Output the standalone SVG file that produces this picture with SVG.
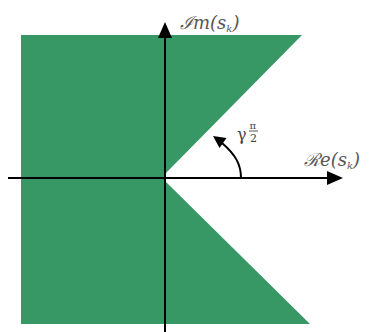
<svg xmlns="http://www.w3.org/2000/svg" width="372" height="332" viewBox="0 0 372 332">
<style>
.ax{stroke:#000;stroke-width:2;fill:none}
.ah{fill:#000}
.lbl{font-family:"DejaVu Serif","Liberation Serif",serif;font-style:italic;fill:#555}
.g{font-family:"DejaVu Serif","Liberation Serif",serif;fill:#444}
</style>
<rect width="372" height="332" fill="#fff"/>
<g id="region">
<polygon points="21,35 302,35 166,173 166,182 310,324 21,324" fill="#379866"/>
</g>
<g id="connectors">
<line class="ax" x1="8" y1="178" x2="330" y2="178"/>
<polygon class="ah" points="343,178 327,171 327,185"/>
<line class="ax" x1="165" y1="332" x2="165" y2="36"/>
<polygon class="ah" points="165,22 158,38 172,38"/>
<path class="ax" stroke-width="2.5" d="M241,178 C241,165 236,155 222,143"/>
<polygon class="ah" points="213,136 226.5,138 219.5,148"/>
</g>
<g id="im-label">
<text class="lbl" x="180" y="29" font-size="18">ℐm(s<tspan font-size="10" dy="3">k</tspan><tspan dy="-3">)</tspan></text>
</g>
<g id="re-label">
<text class="lbl" x="304" y="166" font-size="18">ℛe(s<tspan font-size="10" dy="3">k</tspan><tspan dy="-3">)</tspan></text>
</g>
<g id="angle-label">
<text class="g" x="237" y="140" font-size="16">γ</text>
<text class="g" x="249.5" y="129" font-size="10">π</text>
<line x1="249" y1="131" x2="258" y2="131" stroke="#444" stroke-width="0.9"/>
<text class="g" x="250" y="142" font-size="11">2</text>
</g>
</svg>
